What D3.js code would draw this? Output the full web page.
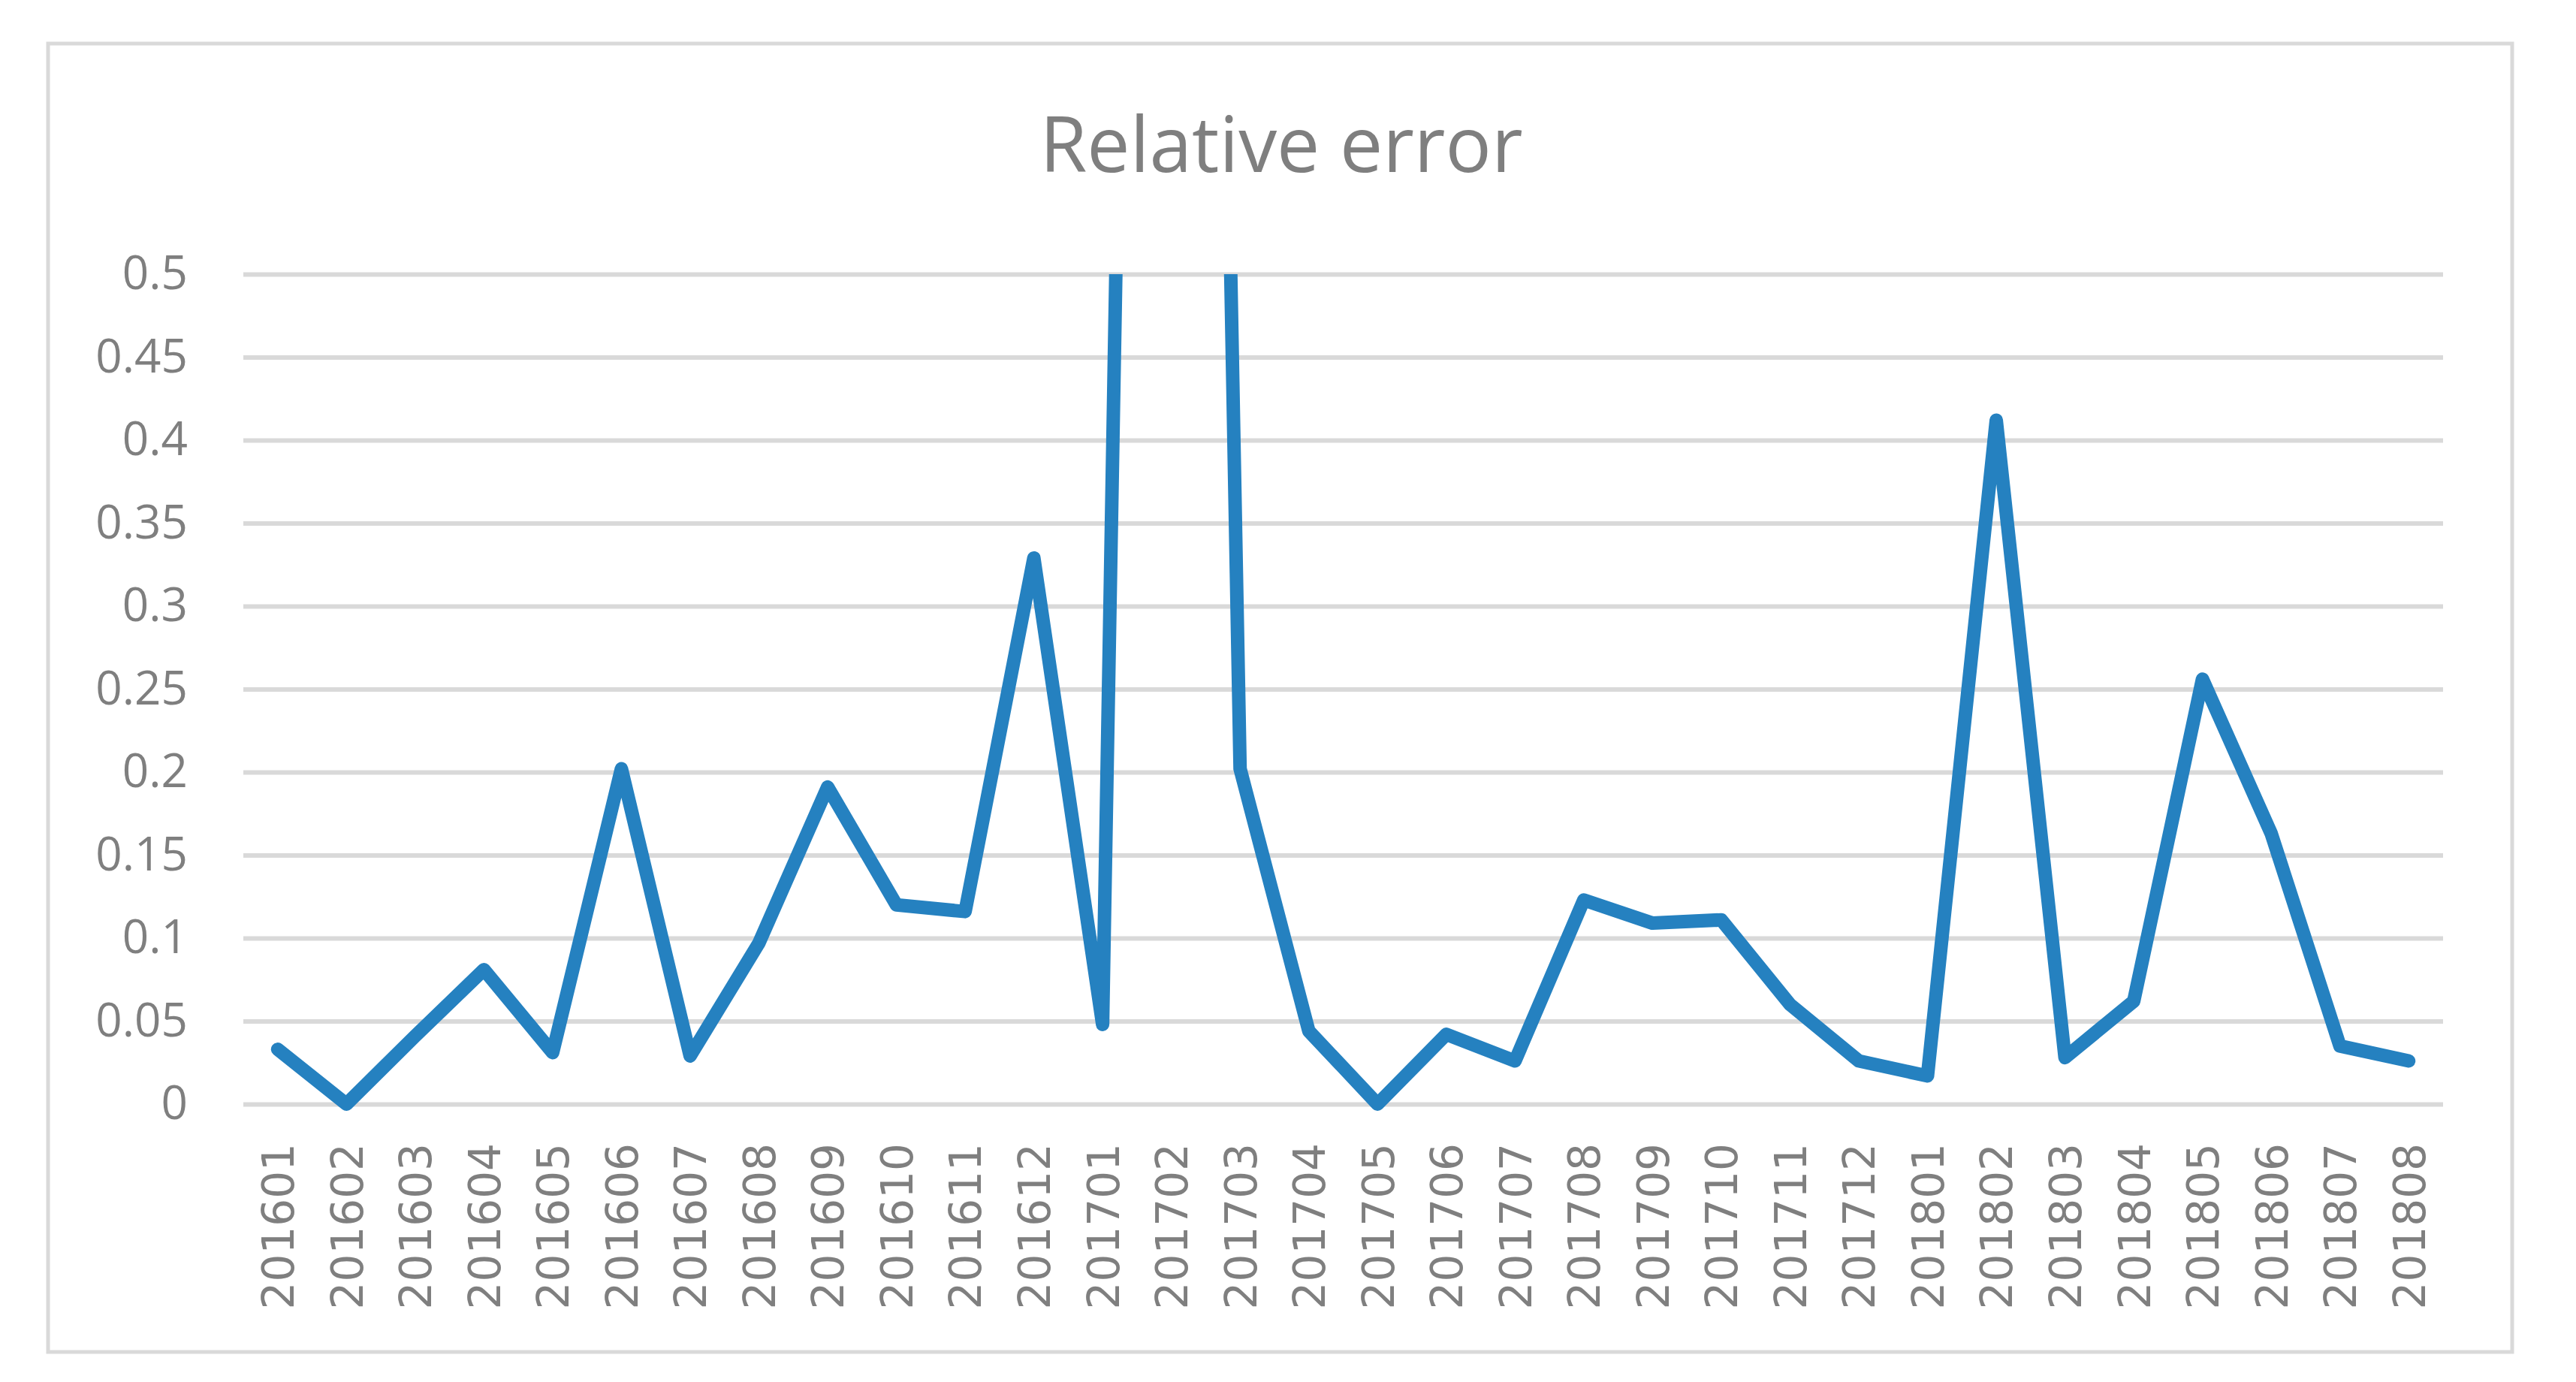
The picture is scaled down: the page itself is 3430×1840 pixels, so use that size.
<!DOCTYPE html>
<html lang="en">
<head>
  <meta charset="UTF-8">
  <title>Relative error</title>
  <script src="https://d3js.org/d3.v7.min.js"></script>
  <style>
    body {
      margin: 0;
      background: #fff;
    }
    svg {
      display: block;
    }
    .title {
      font-family: "Open Sans", sans-serif;
      font-size: 102px;
      fill: #7f7f7f;
    }
    .y-axis text {
      font-family: "Open Sans", sans-serif;
      font-size: 62px;
      fill: #7f7f7f;
    }
    .x-axis text {
      font-family: "DejaVu Sans", sans-serif;
      font-size: 58px;
      fill: #7f7f7f;
    }
  </style>
</head>
<body>
  <div id="chart"></div>
  <script>
    var months = ["201601", "201602", "201603", "201604", "201605", "201606", "201607", "201608",
                  "201609", "201610", "201611", "201612", "201701", "201702", "201703", "201704",
                  "201705", "201706", "201707", "201708", "201709", "201710", "201711", "201712",
                  "201801", "201802", "201803", "201804", "201805", "201806", "201807", "201808"];

    // 201702 is far above the axis range and gets cut off at 0.5
    var relErr = [0.033, 0.0, 0.041, 0.081, 0.031, 0.202, 0.029, 0.097,
                  0.191, 0.120, 0.116, 0.329, 0.048, 2.4, 0.202, 0.044,
                  0.0, 0.042, 0.026, 0.123, 0.109, 0.111, 0.060, 0.026,
                  0.017, 0.412, 0.028, 0.062, 0.256, 0.163, 0.035, 0.026];

    var yTicks = [0, 0.05, 0.1, 0.15, 0.2, 0.25, 0.3, 0.35, 0.4, 0.45, 0.5];
    var yLabels = ["0", "0.05", "0.1", "0.15", "0.2", "0.25", "0.3", "0.35", "0.4", "0.45", "0.5"];

    var W = 3430, H = 1840;
    var plot = { left: 324, right: 3253, top: 365, bottom: 1470 };

    var svg = d3.select("#chart").append("svg")
      .attr("width", W)
      .attr("height", H);

    // chart frame
    svg.append("rect")
      .attr("x", 64)
      .attr("y", 58)
      .attr("width", 3281)
      .attr("height", 1742)
      .attr("fill", "#fff")
      .attr("stroke", "#d9d9d9")
      .attr("stroke-width", 5);

    svg.append("text")
      .attr("class", "title")
      .attr("x", 1706)
      .attr("y", 229)
      .attr("text-anchor", "middle")
      .text("Relative error");

    var x = d3.scalePoint()
      .domain(months)
      .range([plot.left, plot.right])
      .padding(0.5);

    var y = d3.scaleLinear()
      .domain([0, 0.5])
      .range([plot.bottom, plot.top]);

    // gridlines + y labels
    var yAxis = svg.append("g")
      .attr("class", "y-axis")
      .attr("transform", "translate(" + plot.left + ",0)")
      .call(d3.axisLeft(y)
        .tickValues(yTicks)
        .tickFormat(function(d, i) { return yLabels[i]; })
        .tickSize(-(plot.right - plot.left))
        .tickPadding(74));
    yAxis.select(".domain").remove();
    yAxis.selectAll(".tick line")
      .attr("stroke", "#d9d9d9")
      .attr("stroke-width", 6);

    // x labels, rotated
    var xAxis = svg.append("g")
      .attr("class", "x-axis")
      .attr("transform", "translate(0," + plot.bottom + ")")
      .call(d3.axisBottom(x).tickSize(0));
    xAxis.select(".domain").remove();
    xAxis.selectAll(".tick text")
      .attr("transform", "rotate(-90)")
      .attr("x", -52)
      .attr("y", 0)
      .attr("dy", "0.36em")
      .attr("text-anchor", "end");

    svg.append("clipPath")
      .attr("id", "plot-clip")
      .append("rect")
      .attr("x", 0)
      .attr("y", plot.top)
      .attr("width", W)
      .attr("height", H - plot.top);

    var data = months.map(function(m, i) {
      return { month: m, value: relErr[i] };
    });

    var line = d3.line()
      .x(function(d) { return x(d.month); })
      .y(function(d) { return y(d.value); });

    svg.append("path")
      .datum(data)
      .attr("clip-path", "url(#plot-clip)")
      .attr("fill", "none")
      .attr("stroke", "#2581c0")
      .attr("stroke-width", 18)
      .attr("stroke-linejoin", "round")
      .attr("stroke-linecap", "round")
      .attr("d", line);
  </script>
</body>
</html>
